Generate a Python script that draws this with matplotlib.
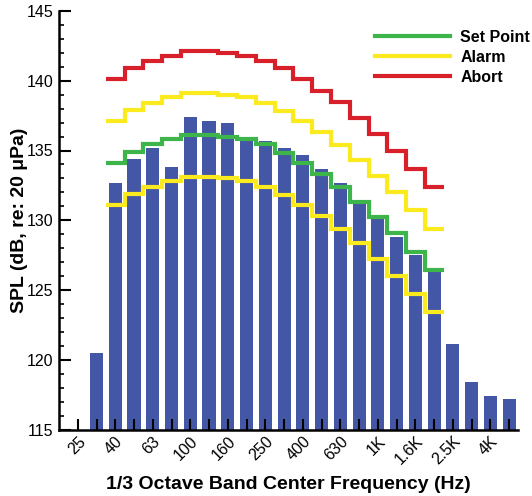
import numpy as np
import matplotlib
matplotlib.use('Agg')
import matplotlib.pyplot as plt
from matplotlib.lines import Line2D

plt.rcParams['font.family'] = ['Liberation Sans', 'DejaVu Sans']

# 1/3 octave bands 25 Hz .. 5 kHz
bands = ['25', '31.5', '40', '50', '63', '80', '100', '125', '160', '200', '250', '315',
         '400', '500', '630', '800', '1K', '1.25K', '1.6K', '2K', '2.5K', '3.15K', '4K', '5K']
tick_labels = [b if i % 2 == 0 else '' for i, b in enumerate(bands)]

# measured spectrum, 31.5 Hz .. 5 kHz
spl = [120.5, 132.7, 134.4, 135.2, 133.8, 137.4, 137.1, 137.0, 136.0, 135.7, 135.2,
       134.7, 133.7, 132.7, 131.2, 130.1, 128.8, 127.5, 126.3, 121.1, 118.4, 117.4, 117.2]

# limit curves, 40 Hz .. 2 kHz
set_point = [134.1, 134.9, 135.5, 135.8, 136.1, 136.1, 136.0, 135.8, 135.5, 134.8,
             134.1, 133.3, 132.4, 131.3, 130.2, 129.1, 127.7, 126.4]
alarm_hi = [137.1, 137.9, 138.4, 138.8, 139.1, 139.1, 139.0, 138.8, 138.4, 137.8,
            137.1, 136.3, 135.4, 134.3, 133.2, 132.0, 130.7, 129.4]
alarm_lo = [131.1, 131.9, 132.4, 132.8, 133.1, 133.1, 133.0, 132.8, 132.4, 131.8,
            131.1, 130.3, 129.4, 128.4, 127.2, 126.0, 124.7, 123.4]
abort = [140.1, 140.9, 141.4, 141.8, 142.1, 142.1, 142.0, 141.8, 141.4, 140.9,
         140.1, 139.3, 138.5, 137.3, 136.2, 135.0, 133.7, 132.4]

c_bar = '#4456a6'
c_green = '#3db54a'
c_yellow = '#fbea1e'
c_red = '#d7202a'

fig = plt.figure(figsize=(5.32, 4.96), dpi=100)
ax = fig.add_axes([59/532, 1-429.5/496, (518-59)/532, (429.5-11)/496])

x = np.arange(len(bands))
ax.bar(x[1:], spl, width=0.7, color=c_bar, zorder=1)

edges = np.arange(1.5, 1.5 + len(set_point) + 1)
ax.stairs(set_point, edges, baseline=None, color=c_green, lw=3, zorder=3)
ax.stairs(alarm_hi, edges, baseline=None, color=c_yellow, lw=3, zorder=3)
ax.stairs(alarm_lo, edges, baseline=None, color=c_yellow, lw=3, zorder=3)
ax.stairs(abort, edges, baseline=None, color=c_red, lw=3, zorder=3)

ax.set_xlim(-1, 23.47)
ax.set_ylim(115, 145)
ax.set_xticks(x)
ax.set_xticklabels(tick_labels, rotation=45, ha='right', rotation_mode='anchor', fontsize=11.5)
ax.set_yticks(np.arange(115, 146, 5))
ax.set_yticks(np.arange(115, 146, 1), minor=True)
ax.tick_params(axis='y', which='major', direction='in', length=8.6, width=1.5, labelsize=11.5, pad=4)
ax.tick_params(axis='y', which='minor', direction='in', length=3.6, width=1.2)
ax.tick_params(axis='x', which='major', direction='in', length=8, width=1.5, pad=3)
for s in ['top', 'right']:
    ax.spines[s].set_visible(False)
for s in ['left', 'bottom']:
    ax.spines[s].set_linewidth(1.8)
ax.set_axisbelow(False)

ax.set_xlabel('1/3 Octave Band Center Frequency (Hz)', fontsize=14, fontweight='bold', labelpad=6)
ax.set_ylabel('SPL (dB, re: 20 μPa)', fontsize=14, fontweight='bold', labelpad=-1)

handles = [Line2D([], [], color=c_green, lw=3),
           Line2D([], [], color=c_yellow, lw=3),
           Line2D([], [], color=c_red, lw=3)]
leg = fig.legend(handles, ['Set Point', 'Alarm', 'Abort'], loc='upper left',
                 bbox_to_anchor=(367/532, 1-22/496), frameon=False, borderpad=0,
                 handlelength=4.7, handletextpad=0.65, labelspacing=0.3,
                 prop={'weight': 'bold', 'size': 11.5})

fig.savefig('out.png', dpi=100)
